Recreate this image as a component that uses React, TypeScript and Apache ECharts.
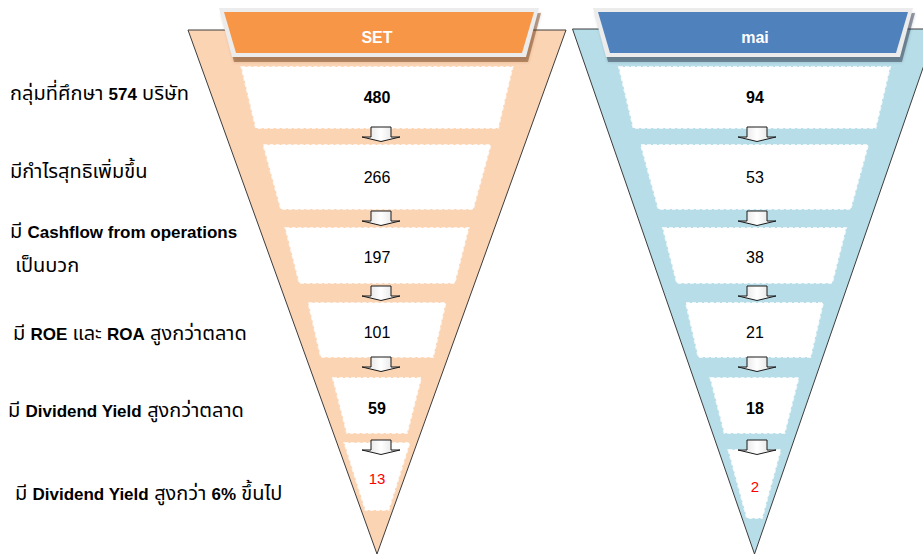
import React, { useEffect, useRef } from "react";
import * as echarts from "echarts";

// ---------- data ----------
const FUNNEL_NAMES = ["SET", "mai"];
const STAGE_LABELS = [
  "กลุ่มที่ศึกษา 574 บริษัท",
  "มีกำไรสุทธิเพิ่มขึ้น",
  "มี Cashflow from operations\n เป็นบวก",
  "มี ROE และ ROA สูงกว่าตลาด",
  "มี Dividend Yield สูงกว่าตลาด",
  "มี Dividend Yield สูงกว่า 6% ขึ้นไป",
];
const SET_VALUES = [480, 266, 197, 101, 59, 13];
const MAI_VALUES = [94, 53, 38, 21, 18, 2];

// ---------- layout (pixel space of the 923x556 canvas) ----------
const W = 923;
const H = 556;
const FUNNEL_LAYOUT = [
  {
    cx: 377, topY: 30, apexY: 554, topHW: 189, tabCx: 379, textCx: 377, arrowCx: 381,
    fill: "#FBD4B4", tabFill: "#F79646", shadow: "rgba(110,60,20,0.45)",
    lastBox: [443, 510, 32.5, 11.5], lastTextY: 478,
  },
  {
    cx: 754.5, topY: 29, apexY: 554, topHW: 182, tabCx: 753, textCx: 755, arrowCx: 757,
    fill: "#B7DDE8", tabFill: "#4F81BD", shadow: "rgba(40,50,70,0.45)",
    lastBox: [450, 518, 26, 7.5], lastTextY: 486,
  },
];
const BOX_ROWS = [
  [67, 128, 135.5, 121],
  [145, 209, 113.5, 96],
  [228, 283, 91.5, 77.5],
  [303, 357, 68.5, 56],
  [378, 433, 44, 30],
];
const TEXT_Y = [97, 177, 257, 332, 408];
const ARROW_TOP = [127, 211, 286, 357, 440];
const LABEL_POS = [
  [10, 94],
  [10, 172],
  [10, 249],
  [13, 334],
  [8, 411],
  [15, 494],
];
const LATIN = '"Liberation Sans", Arial, sans-serif';
const THAI = '"Noto Sans Thai", Tahoma, Loma, Garuda, "Norasi", "DejaVu Sans", sans-serif';

function toRich(s: string) {
  return s
    .split("\n")
    .map((line) =>
      line
        .split(/([A-Za-z0-9%]+(?: [A-Za-z0-9%]+)*)/)
        .filter((p) => p.length)
        .map((p) => (/[A-Za-z0-9]/.test(p) ? `{b|${p}}` : `{t|${p}}`))
        .join("")
    )
    .join("\n");
}

export default function App() {
  const ref = useRef<HTMLDivElement>(null);
  useEffect(() => {
    const chart = echarts.init(ref.current!, null, { renderer: "svg" });

    const funnelValues = [SET_VALUES, MAI_VALUES];

    const option: any = {
      animation: false,
      backgroundColor: "#ffffff",
      grid: { left: 0, right: 0, top: 0, bottom: 0 },
      xAxis: { type: "value", min: 0, max: W, show: false },
      yAxis: { type: "value", min: 0, max: H, inverse: true, show: false },
      series: [
        {
          type: "custom",
          name: "funnels",
          silent: true,
          data: FUNNEL_NAMES.map((_, i) => [i, i]),
          renderItem: (params: any, api: any) => {
            const i = params.dataIndex;
            const L = FUNNEL_LAYOUT[i];
            const pt = (x: number, y: number) => api.coord([x, y]);
            const tri = [pt(L.cx - L.topHW, L.topY), pt(L.cx + L.topHW, L.topY), pt(L.cx, L.apexY)];
            const trap = (c: number, t: number, b: number, thw: number, bhw: number, dx = 0, dy = 0) => [
              pt(c - thw + dx, t + dy),
              pt(c + thw + dx, t + dy),
              pt(c + bhw + dx, b + dy),
              pt(c - bhw + dx, b + dy),
            ];
            const c = L.tabCx;
            return {
              type: "group",
              children: [
                { type: "polygon", shape: { points: tri }, style: { fill: L.fill, stroke: "#3c3c3c", lineWidth: 1 } },
                {
                  type: "polygon",
                  shape: { points: trap(c, 8, 57, 160, 147, 2, 5) },
                  style: { fill: L.shadow, shadowBlur: 3, shadowColor: L.shadow },
                },
                { type: "polygon", shape: { points: trap(c, 8, 57, 160, 147) }, style: { fill: "#ECECEC" } },
                { type: "polygon", shape: { points: trap(c, 12, 53, 155, 143) }, style: { fill: L.tabFill } },
                {
                  type: "text",
                  style: {
                    text: FUNNEL_NAMES[i],
                    x: pt(L.textCx, 37)[0],
                    y: pt(L.textCx, 37)[1],
                    align: "center",
                    verticalAlign: "middle",
                    fill: "#ffffff",
                    fontFamily: LATIN,
                    fontWeight: "bold",
                    fontSize: 16,
                  },
                },
              ],
            };
          },
        },
        {
          type: "custom",
          name: "stages",
          silent: true,
          data: funnelValues.flatMap((vals, f) => vals.map((v, s) => [f, s, v])),
          renderItem: (params: any, api: any) => {
            const f = api.value(0);
            const s = api.value(1);
            const v = api.value(2);
            const L = FUNNEL_LAYOUT[f];
            const pt = (x: number, y: number) => api.coord([x, y]);
            const row = s < BOX_ROWS.length ? BOX_ROWS[s] : L.lastBox;
            const [t, b, thw, bhw] = row;
            const c = L.cx;
            const ty = s < TEXT_Y.length ? TEXT_Y[s] : L.lastTextY;
            const last = s === STAGE_LABELS.length - 1;
            const bold = s === 0 || s === 4;
            const children: any[] = [
              {
                type: "polygon",
                shape: { points: [pt(c - thw, t), pt(c + thw, t), pt(c + bhw, b), pt(c - bhw, b)] },
                style: { fill: "#ffffff", stroke: "rgba(255,255,255,0.75)", lineWidth: 2, lineDash: [4, 2] },
              },
              {
                type: "text",
                style: {
                  text: String(v),
                  x: pt(L.textCx, ty)[0],
                  y: pt(L.textCx, ty)[1],
                  align: "center",
                  verticalAlign: "middle",
                  fill: last ? "#FF0000" : "#000000",
                  fontFamily: LATIN,
                  fontWeight: bold ? "bold" : "normal",
                  fontSize: last ? 15 : 16,
                },
              },
            ];
            if (s < ARROW_TOP.length) {
              const a = L.arrowCx;
              const at = ARROW_TOP[s];
              children.push({
                type: "polygon",
                z2: 20,
                shape: {
                  points: [
                    pt(a - 10, at),
                    pt(a + 10, at),
                    pt(a + 10, at + 10),
                    pt(a + 19, at + 10),
                    pt(a, at + 14.5),
                    pt(a - 19, at + 10),
                    pt(a - 10, at + 10),
                  ],
                },
                style: {
                  fill: new echarts.graphic.LinearGradient(0, 0, 1, 0, [
                    { offset: 0, color: "#d8d8d8" },
                    { offset: 0.5, color: "#ffffff" },
                    { offset: 1, color: "#d8d8d8" },
                  ]),
                  stroke: "#1a1a1a",
                  lineWidth: 1,
                },
              });
            }
            return { type: "group", children };
          },
        },
        {
          type: "custom",
          name: "labels",
          silent: true,
          data: STAGE_LABELS.map((_, i) => [i, i]),
          renderItem: (params: any, api: any) => {
            const i = params.dataIndex;
            const [x, y] = LABEL_POS[i];
            const p = api.coord([x, y]);
            return {
              type: "text",
              style: {
                text: toRich(STAGE_LABELS[i]),
                x: p[0],
                y: p[1],
                align: "left",
                verticalAlign: "middle",
                fill: "#000000",
                fontSize: 17,
                lineHeight: 34,
                rich: {
                  t: { fontFamily: THAI, fontSize: 20, fill: "#000000", lineHeight: 34 },
                  b: { fontFamily: LATIN, fontWeight: "bold", fontSize: 17, fill: "#000000", lineHeight: 34 },
                },
              },
            };
          },
        },
      ],
    };

    chart.setOption(option);
    return () => chart.dispose();
  }, []);

  return (
    <div
      ref={ref}
      style={{ position: "fixed", left: 0, top: 0, width: W, height: H, background: "#ffffff" }}
    />
  );
}
